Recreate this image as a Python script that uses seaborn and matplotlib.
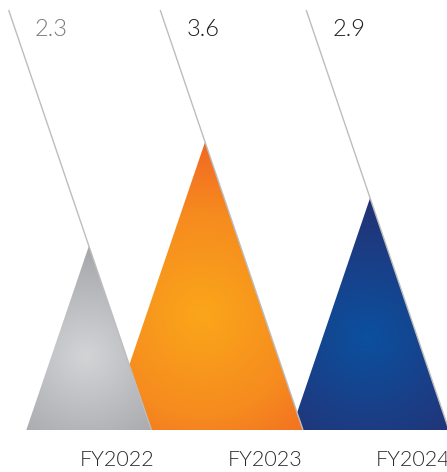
import numpy as np
import matplotlib
matplotlib.use("Agg")
import matplotlib.pyplot as plt
from matplotlib.patches import Polygon
import seaborn as sns

# ============================================
# Data
# ============================================
YEARS = ["FY2022", "FY2023", "FY2024"]
VALUES = [2.3, 3.6, 2.9]
VALUE_COLORS = ["#7a7a7a", "#1e1e1e", "#1e1e1e"]
GRADIENTS = [
    ["#d3d4d6", "#b8b9bc", "#9c9ea1"],
    ["#faa61a", "#f68b1f", "#f05a24"],
    ["#0b509e", "#1a3e86", "#272d6c"],
]

# ============================================
# Layout (pixel scale of the axes)
# ============================================
PX_X = 148.0          # pixels per category step
PX_Y = 80.0           # pixels per value unit
PEAK_SHIFT = [-0.19, -0.405, -0.29]   # peak offset from the year label
SLOPE = 0.34 * PX_Y / PX_X            # half-width per value unit
LINE_TOP = 5.25

sns.set_theme(style="white")
plt.rcParams["font.family"] = ["Lato", "DejaVu Sans"]

fig = plt.figure(figsize=(4.47, 4.72), dpi=100)
ax = fig.add_axes([0, 0, 1, 1])
ax.set_xlim(-117 / PX_X, 330 / PX_X)
ax.set_ylim(-42 / PX_Y, 430 / PX_Y)
ax.axis("off")

order = [2, 1, 0]  # blue at the back, gray in front
for z, i in enumerate(order):
    h = VALUES[i]
    cx = i + PEAK_SHIFT[i]
    half = SLOPE * h
    tri = Polygon([(cx - half, 0), (cx, h), (cx + half, 0)], closed=True,
                  facecolor="none", edgecolor="none", zorder=z * 2 + 1)
    ax.add_patch(tri)

    # radial gradient clipped to the triangle
    xs = np.linspace(cx - half, cx + half, 400)
    ys = np.linspace(0, h, 400)
    X, Y = np.meshgrid(xs, ys)
    gx, gy = cx - 0.02, 0.40 * h
    r = np.hypot((X - gx) * PX_X, (Y - gy) * PX_Y) / (0.70 * h * PX_Y)
    cmap = sns.blend_palette(GRADIENTS[i], as_cmap=True)
    im = ax.imshow(np.clip(r, 0, 1), extent=(cx - half, cx + half, 0, h),
                   origin="lower", cmap=cmap, vmin=0, vmax=1,
                   aspect="auto", interpolation="bilinear", zorder=z * 2 + 1)
    im.set_clip_path(tri)

    # leader line along the right edge, extended to the top
    top_x = cx - SLOPE * (LINE_TOP - h)
    ax.plot([top_x, cx + half], [LINE_TOP, 0], color="#bdbdbd", lw=1.0,
            zorder=10, solid_capstyle="butt")

    ax.text(top_x + 26 / PX_X, 5.01, f"{h:.1f}", color=VALUE_COLORS[i],
            fontsize=17, fontweight=300, ha="left", va="center")

for i, year in enumerate(YEARS):
    ax.text(i, -30 / PX_Y, year, color="#2a2a2a", fontsize=15.5,
            fontweight=300, ha="center", va="center")

plt.savefig("out.png", dpi=100)
plt.close()
